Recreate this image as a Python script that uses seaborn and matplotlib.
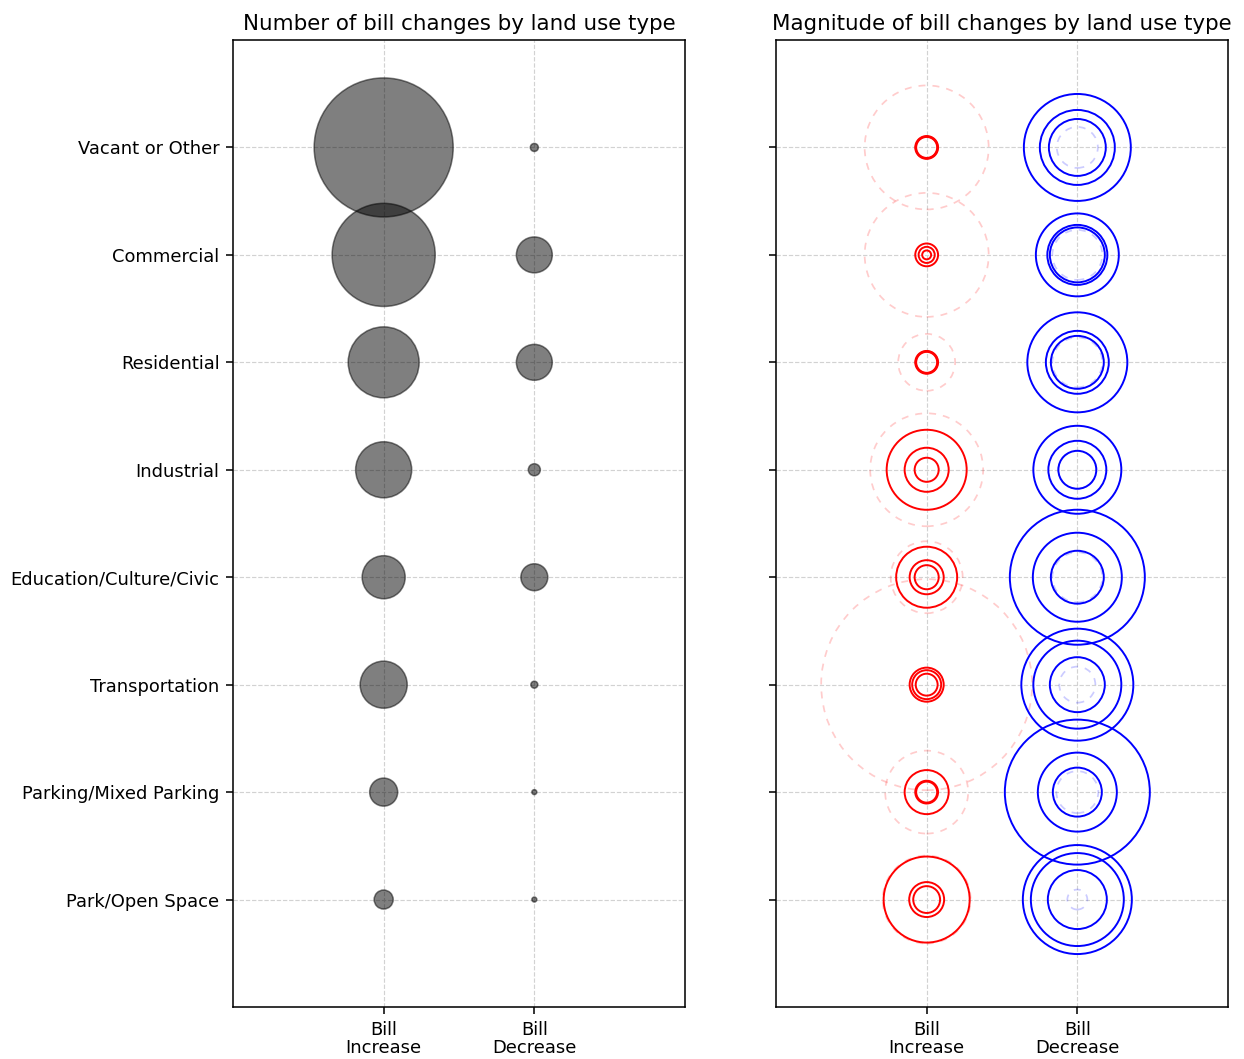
import numpy as np
import pandas as pd
import matplotlib
matplotlib.use("Agg")
import matplotlib.pyplot as plt
import seaborn as sns

# ---------------- data ----------------
categories = ["Vacant or Other", "Commercial", "Residential", "Industrial",
              "Education/Culture/Civic", "Transportation",
              "Parking/Mixed Parking", "Park/Open Space"]
directions = ["Bill\nIncrease", "Bill\nDecrease"]

# number of bill changes (estimated)
count_increase = [4800, 2640, 1250, 780, 460, 550, 195, 90]
count_decrease = [16, 320, 320, 36, 180, 12, 6, 6]

# magnitude of bill changes (estimated, $)
inc_mean = [769, 769, 162, 638, 259, 2226, 344, 387]
inc_q75 = [26, 26, 26, 320, 186, 58, 97, 370]
inc_median = [24, 13, 24, 97, 58, 42, 26, 61]
inc_q25 = [22, 4, 22, 29, 29, 24, 22, 36]

dec_mean = [84, 125, 125, 72, 125, 65, 88, 20]
dec_q75 = [572, 344, 500, 387, 911, 627, 1051, 594]
dec_median = [281, 180, 198, 168, 396, 387, 312, 432]
dec_q25 = [162, 151, 140, 72, 140, 151, 120, 174]

# ---------------- style ----------------
DPI = 140
sns.set_style("ticks")
plt.rcParams["font.family"] = ["DejaVu Sans"]
plt.rcParams["axes.edgecolor"] = "black"
plt.rcParams["xtick.color"] = "black"
plt.rcParams["ytick.color"] = "black"
plt.rcParams["xtick.labelcolor"] = "black"
plt.rcParams["ytick.labelcolor"] = "black"
plt.rcParams["text.color"] = "black"
plt.rcParams["axes.titlecolor"] = "black"

fig = plt.figure(figsize=(1244 / DPI, 1059 / DPI), dpi=DPI)
W, H = 1244, 1059
ax1 = fig.add_axes([233 / W, (H - 1007) / H, 452 / W, 967 / H])
ax2 = fig.add_axes([776 / W, (H - 1007) / H, 452 / W, 967 / H])

COUNT_K = 1.065   # pt^2 per change
MAG_K = 5.29      # pt^2 per $

# ---- left: counts ----
df_count = pd.DataFrame({
    "category": categories * 2,
    "direction": [directions[0]] * len(categories) + [directions[1]] * len(categories),
    "count": count_increase + count_decrease,
})
cmax = max(df_count["count"])
sns.scatterplot(data=df_count, x="direction", y="category", size="count",
                sizes=(0, cmax * COUNT_K), size_norm=(0, cmax),
                color="black", alpha=0.5, edgecolor="black", linewidth=0.8,
                legend=False, ax=ax1, zorder=2)

# ---- right: magnitudes ----
def ring(ax, vals, direction, color, ls, alpha, lw):
    d = pd.DataFrame({"category": categories,
                      "direction": [direction] * len(categories),
                      "value": vals})
    vmax = max(vals)
    sns.scatterplot(data=d, x="direction", y="category", size="value",
                    sizes=(0, vmax * MAG_K), size_norm=(0, vmax),
                    color=color, facecolor="none", edgecolor=color,
                    linestyle=ls, linewidth=lw, alpha=alpha,
                    legend=False, ax=ax, zorder=2)

ring(ax2, inc_mean, directions[0], "red", (0, (4, 4)), 0.2, 0.9)
ring(ax2, dec_mean, directions[1], "blue", (0, (4, 4)), 0.2, 0.9)
for vals in (inc_q75, inc_median, inc_q25):
    ring(ax2, vals, directions[0], "red", "-", 1.0, 1.0)
for vals in (dec_q75, dec_median, dec_q25):
    ring(ax2, vals, directions[1], "blue", "-", 1.0, 1.0)

for ax in (ax1, ax2):
    ax.set_xlim(-1, 2)
    ax.set_ylim(len(categories), -1)
    ax.set_xlabel("")
    ax.set_ylabel("")
    ax.grid(True, linestyle="--", color="#d2d2d2", linewidth=0.6)
    ax.set_axisbelow(True)
    for sp in ax.spines.values():
        sp.set_visible(True)
        sp.set_color("black")
        sp.set_linewidth(0.8)
    ax.tick_params(axis="both", labelsize=9.2, length=3.5, width=0.8,
                   colors="black")
    for lab in ax.get_xticklabels():
        lab.set_linespacing(1.0)

ax2.set_yticklabels([])
ax1.set_title("Number of bill changes by land use type", fontsize=11, pad=5)
ax2.set_title("Magnitude of bill changes by land use type", fontsize=11, pad=5)

fig.savefig("out.png", dpi=DPI)
